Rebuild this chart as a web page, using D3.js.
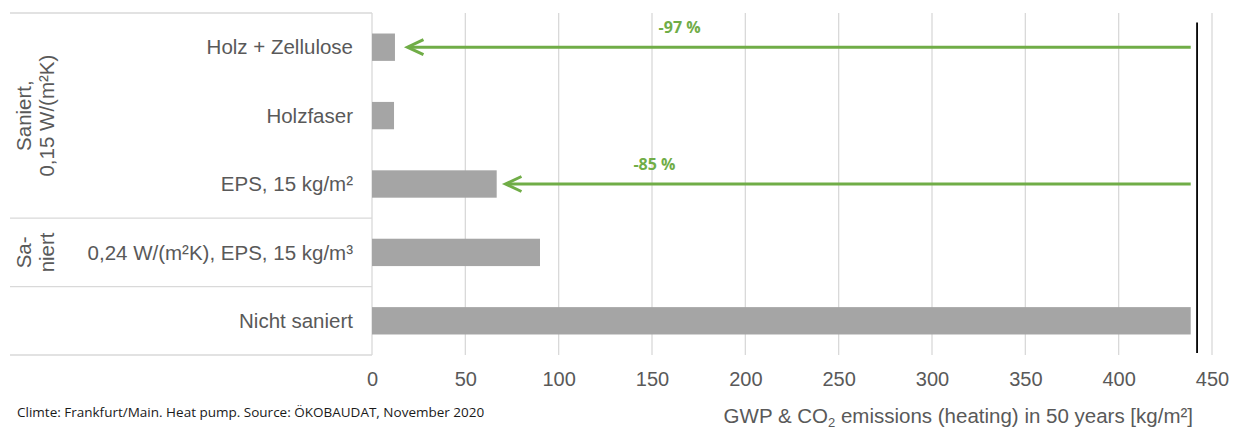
<!DOCTYPE html>
<html>
<head>
<meta charset="utf-8">
<script src="https://cdn.jsdelivr.net/npm/d3@7"></script>
<style>
  body { margin: 0; background: #ffffff; }
  text { font-family: "Liberation Sans", Arial, sans-serif; }
</style>
</head>
<body>
<div id="chart"></div>
<script>
// categories, top to bottom
let categories = ["Holz + Zellulose", "Holzfaser", "EPS, 15 kg/m²", "0,24 W/(m²K), EPS, 15 kg/m³", "Nicht saniert"];
let values = [12.3, 11.8, 66.8, 90, 438.6];

// group labels on the left (rotated), with the rows they span
let groupLabels = [["Saniert,", "0,15 W/(m²K)"], ["Sa-", "niert"], []];
let groupRows = [[0, 2], [3, 3], [4, 4]];

// reduction arrows: from the "Nicht saniert" value to the tip value
let arrowRows = [0, 2];
let arrowTips = [19, 71.5];
let arrowLabels = ["-97 %", "-85 %"];
let arrowLabelValues = [164.8, 151.3];

// black reference line
let refValue = 442;

let xTicks = [0, 50, 100, 150, 200, 250, 300, 350, 400, 450];

let width = 1239, height = 428;
let margin = {top: 13, right: 27, bottom: 73, left: 372};
let fontSize = 20.5;

let svg = d3.select("#chart")
  .append("svg")
    .attr("width", width)
    .attr("height", height);

let x = d3.scaleLinear()
  .domain([0, 450])
  .range([margin.left, width - margin.right]);

let y = d3.scaleBand()
  .domain(d3.range(categories.length))
  .range([margin.top, height - margin.bottom])
  .paddingInner(0.6)
  .paddingOuter(0.3);

let step = y.step();
let rowTop = i => margin.top + i * step;

// vertical gridlines
svg.append("g")
  .selectAll("line")
  .data(xTicks.slice(1))
  .join("line")
    .attr("x1", d => x(d))
    .attr("x2", d => x(d))
    .attr("y1", margin.top)
    .attr("y2", height - margin.bottom)
    .style("stroke", "#D9D9D9")
    .style("stroke-width", 1.3);

// left panel lines (top, group separators, bottom)
let sepY = [0].concat(groupRows.map(r => r[1] + 1));
svg.append("g")
  .selectAll("line")
  .data(sepY)
  .join("line")
    .attr("x1", 10)
    .attr("x2", x(0))
    .attr("y1", d => rowTop(d))
    .attr("y2", d => rowTop(d))
    .style("stroke", "#D9D9D9")
    .style("stroke-width", 1.3);

// category axis line
svg.append("line")
  .attr("x1", x(0))
  .attr("x2", x(0))
  .attr("y1", margin.top)
  .attr("y2", height - margin.bottom)
  .style("stroke", "#D9D9D9")
  .style("stroke-width", 1.3);

// bars
svg.append("g")
  .selectAll("rect")
  .data(values)
  .join("rect")
    .attr("x", x(0))
    .attr("y", (d, i) => y(i))
    .attr("width", d => x(d) - x(0))
    .attr("height", y.bandwidth())
    .style("fill", "#A5A5A5");

// category labels
svg.append("g")
  .selectAll("text")
  .data(categories)
  .join("text")
    .attr("x", x(0) - 19)
    .attr("y", (d, i) => y(i) + y.bandwidth() / 2)
    .attr("dy", "0.35em")
    .attr("text-anchor", "end")
    .style("font-size", fontSize + "px")
    .style("fill", "#595959")
    .text(d => d);

// rotated group labels
groupLabels.forEach((lines, g) => {
  let cy = (rowTop(groupRows[g][0]) + rowTop(groupRows[g][1] + 1)) / 2;
  lines.forEach((t, k) => {
    let cx = 23.5 + k * 23;
    svg.append("text")
      .attr("transform", "translate(" + cx + "," + cy + ") rotate(-90)")
      .attr("text-anchor", "middle")
      .attr("dy", "0.35em")
      .style("font-size", fontSize + "px")
      .style("fill", "#595959")
      .text(t);
  });
});

// x axis tick labels
svg.append("g")
  .attr("transform", "translate(0," + (height - margin.bottom) + ")")
  .call(d3.axisBottom(x).tickValues(xTicks).tickSize(0).tickPadding(17))
  .call(g => g.select(".domain").remove())
  .selectAll("text")
    .style("font-family", "Liberation Sans, Arial, sans-serif")
    .style("font-size", "20px")
    .style("fill", "#595959");

// reference line
svg.append("line")
  .attr("x1", x(refValue))
  .attr("x2", x(refValue))
  .attr("y1", 22.5)
  .attr("y2", 353)
  .style("stroke", "#000000")
  .style("stroke-width", 1.8);

// arrows
let green = "#70AD47";
arrowRows.forEach((r, k) => {
  let ay = y(r) + y.bandwidth() / 2;
  let x0 = x(values[values.length - 1]);
  let x1 = x(arrowTips[k]);
  svg.append("line")
    .attr("x1", x0)
    .attr("x2", x1 + 1)
    .attr("y1", ay)
    .attr("y2", ay)
    .style("stroke", green)
    .style("stroke-width", 3);
  svg.append("path")
    .attr("d", "M" + (x1 + 16) + "," + (ay - 7.5) + "L" + x1 + "," + ay + "L" + (x1 + 16) + "," + (ay + 7.5))
    .style("fill", "none")
    .style("stroke", green)
    .style("stroke-width", 3);
  svg.append("text")
    .attr("x", x(arrowLabelValues[k]))
    .attr("y", ay - 14)
    .attr("text-anchor", "middle")
    .style("font-family", "'Open Sans', sans-serif")
    .style("font-weight", "bold")
    .style("font-size", "16px")
    .style("fill", green)
    .text(arrowLabels[k]);
});

// axis title
let title = svg.append("text")
  .attr("x", 1193)
  .attr("y", 423)
  .attr("text-anchor", "end")
  .style("font-size", fontSize + "px")
  .style("fill", "#595959");
title.append("tspan").text("GWP & CO");
title.append("tspan").attr("dy", 3.5).style("font-size", "13px").text("2");
title.append("tspan").attr("dy", -3.5).text(" emissions (heating) in 50 years [kg/m²]");

// source note
svg.append("text")
  .attr("x", 17)
  .attr("y", 417)
  .style("font-family", "'Open Sans', sans-serif")
  .style("font-size", "13.5px")
  .style("fill", "#1a1a1a")
  .text("Climte: Frankfurt/Main. Heat pump. Source: ÖKOBAUDAT, November 2020");
</script>
</body>
</html>
